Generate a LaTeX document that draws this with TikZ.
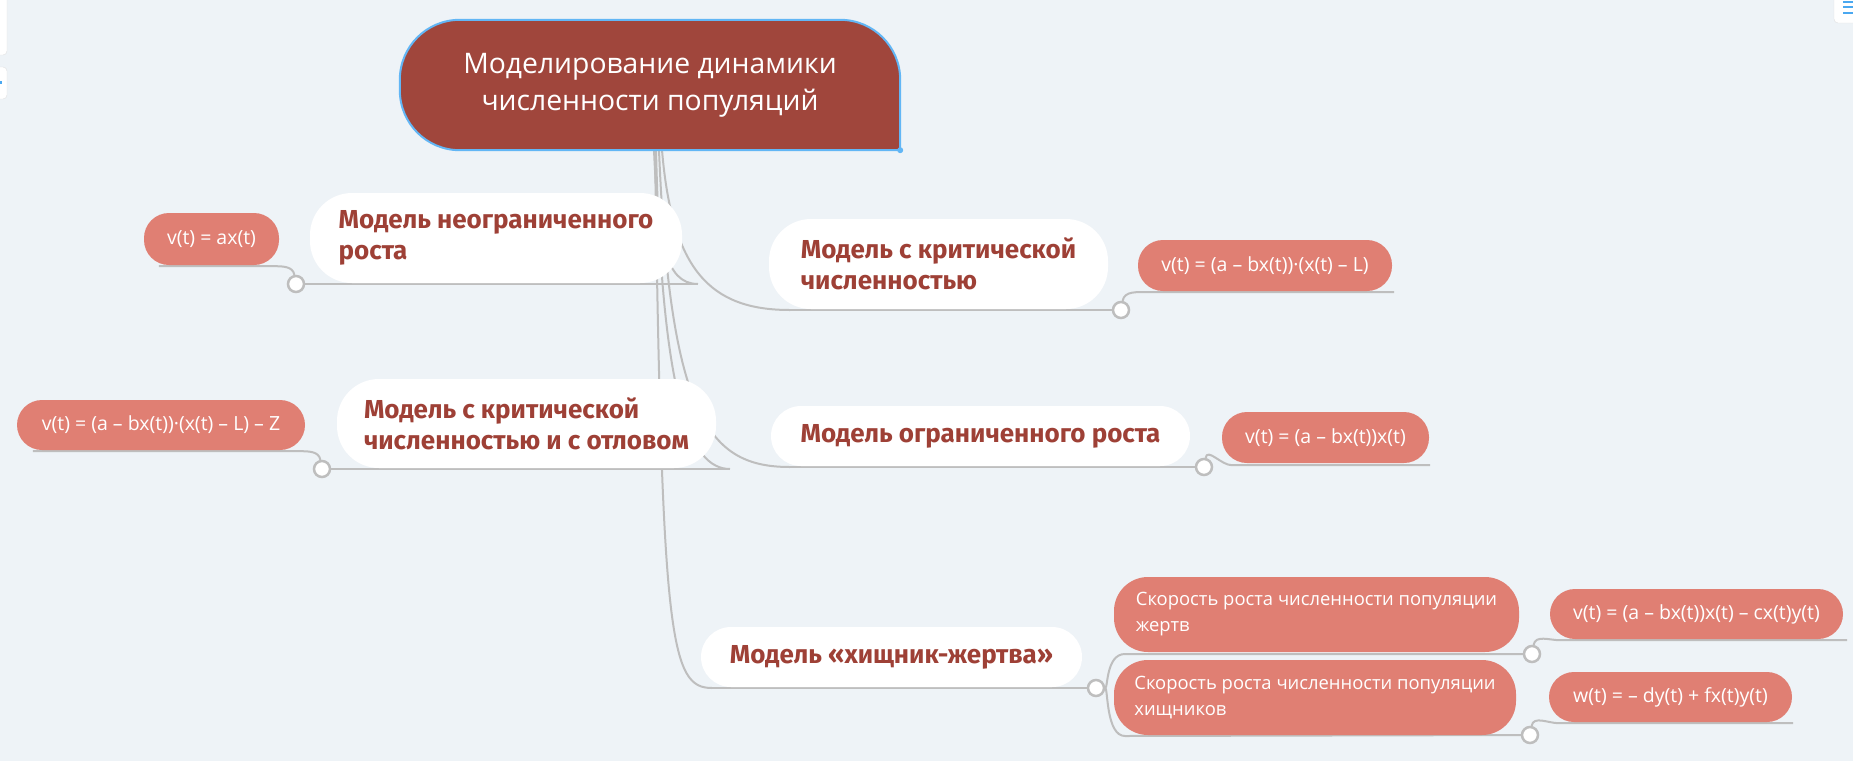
\documentclass[tikz,border=0pt]{standalone}
\usepackage{fontspec}
\setmainfont{Open Sans}
\newfontfamily\topicfont{Fira Sans}
\usepackage{tikz}
\usetikzlibrary{positioning, backgrounds}
\usepackage{xcolor}
\definecolor{canvas}{HTML}{EEF3F7}
\definecolor{rootred}{HTML}{A0463C}
\definecolor{rootblue}{HTML}{62B6F5}
\definecolor{topicred}{HTML}{9E4036}
\definecolor{leafred}{HTML}{E07F73}
\definecolor{linegray}{HTML}{BEBEBE}
\definecolor{uiblue}{HTML}{4AA8F0}
\tikzstyle{rootbox} = [rectangle, minimum width=500pt, minimum height=130pt, inner sep=0pt]
\tikzstyle{roottext} = [align=center, text=white, font=\fontsize{28.3}{37}\selectfont]
\tikzstyle{topic} = [rectangle, rounded corners=30pt, fill=white, align=left, inner sep=0pt, text=topicred, font=\topicfont\bfseries\fontsize{26}{31}\selectfont]
\tikzstyle{subtopic} = [rectangle, rounded corners=34pt, fill=leafred, align=left, inner sep=0pt, text=white, font=\fontsize{18.4}{26}\selectfont]
\tikzstyle{formula} = [rectangle, rounded corners=25pt, fill=leafred, inner sep=0pt, text=white, font=\fontsize{19.5}{22}\selectfont]
\tikzstyle{knob} = [circle, draw=linegray, line width=2.5pt, fill=white, minimum size=16pt, inner sep=0pt]
\tikzstyle{link} = [draw=linegray, line width=2pt]

\begin{document}
\begin{tikzpicture}[x=1pt, y=-1pt]
\useasboundingbox (0,0) rectangle (1853,761);

% central topic
\node[rootbox] (root) at (650,85) {};
\filldraw[fill=rootred, draw=rootblue, line width=2pt, rounded corners=60pt] (root.east) -- (root.north east) -- (root.north west) -- (root.south west) -- (root.south) [sharp corners] -- (root.south east) -- cycle;
\fill[rootblue] (root.south east) circle (3pt);
\node[roottext] (title) at (root.center) {Моделирование динамики\\численности популяций};

% main branches
\node[topic, rounded corners=42pt, minimum width=372pt, minimum height=90pt] (unbounded) at (496,238) {Модель неограниченного\\роста};
\node[topic, rounded corners=42pt, minimum width=379pt, minimum height=89pt] (harvest) at (526.5,423.5) {Модель с критической\\численностью и с отловом};
\node[topic, rounded corners=42pt, minimum width=339pt, minimum height=90pt] (critical) at (938.5,264) {Модель с критической\\численностью};
\node[topic, minimum width=419pt, minimum height=60pt] (bounded) at (980.5,436) {Модель ограниченного роста};
\node[topic, minimum width=381pt, minimum height=60pt] (predator) at (891.5,657) {Модель «хищник-жертва»};

\node[subtopic, minimum width=405pt, minimum height=75pt] (prey) at (1316.5,614.5) {Скорость роста численности популяции\\жертв};
\node[subtopic, minimum width=402pt, minimum height=75pt] (hunter) at (1315,697.5) {Скорость роста численности популяции\\хищников};

% formulas
\node[formula, minimum width=135pt, minimum height=52pt] (fUnbounded) at (211.5,239) {v(t) = ax(t)};
\node[formula, minimum width=288pt, minimum height=50pt] (fHarvest) at (161,425) {v(t) = (a – bx(t))·(x(t) – L) – Z};
\node[formula, minimum width=254pt, minimum height=51pt] (fCritical) at (1265,265.5) {v(t) = (a – bx(t))·(x(t) – L)};
\node[formula, minimum width=207pt, minimum height=51pt] (fBounded) at (1325.5,437.5) {v(t) = (a – bx(t))x(t)};
\node[formula, minimum width=293pt, minimum height=50pt] (fPrey) at (1696.5,614) {v(t) = (a – bx(t))x(t) – cx(t)y(t)};
\node[formula, minimum width=243pt, minimum height=50pt] (fHunter) at (1670.5,697) {w(t) = – dy(t) + fx(t)y(t)};

% knobs
\node[knob] (kUnbounded) at (296,284) {};
\node[knob] (kHarvest) at (322,469) {};
\node[knob] (kCritical) at (1121,310) {};
\node[knob] (kBounded) at (1204,467) {};
\node[knob] (kPredator) at (1096,688) {};
\node[knob] (kPrey) at (1532,654) {};
\node[knob] (kHunter) at (1530,735) {};

\coordinate (jUnbounded) at (698,284);
\coordinate (jHarvest) at (730,469);
\coordinate (jCritical) at (790,310);
\coordinate (jBounded) at (790,467);
\coordinate (jPredator) at (712,688);

\begin{scope}[on background layer]
\fill[canvas] (0,0) rectangle (1853,761);
% side panels of the editor
\filldraw[fill=white, draw=black!12, rounded corners=4pt] (-10,-10) rectangle (7,55);
\filldraw[fill=white, draw=black!12, rounded corners=4pt] (-10,67) rectangle (7,99);
\fill[uiblue] (0,81) rectangle (2,84);
\filldraw[fill=white, draw=black!12, rounded corners=4pt] (1834,-10) rectangle (1863,23);
\foreach \y in {2,7,13} \draw[uiblue, line width=1.5pt] (1843,\y) -- (1853,\y);

% trunk
\draw[link] (654,150) .. controls (658,240) and (665,284) .. (jUnbounded);
\draw[link] (656,150) .. controls (662,400) and (690,469) .. (jHarvest);
\draw[link] (662,150) .. controls (672,270) and (710,310) .. (jCritical);
\draw[link] (659,150) .. controls (670,420) and (710,467) .. (jBounded);
\draw[link] (655,150) .. controls (662,640) and (670,688) .. (jPredator);

% underlines of main branches
\draw[link] (kUnbounded) -- (jUnbounded);
\draw[link] (kHarvest) -- (jHarvest);
\draw[link] (jCritical) -- (kCritical);
\draw[link] (jBounded) -- (kBounded);
\draw[link] (jPredator) -- (kPredator);

% predator-prey fork
\draw[link] (kPredator) .. controls (1108,688) and (1106,654) .. (1125,654) -- (kPrey);
\draw[link] (kPredator) .. controls (1108,688) and (1106,736) .. (1125,736) -- (kHunter);

% underlines of formulas
\draw[link] ([xshift=15pt,yshift=-1pt]fUnbounded.south west) -- ([xshift=-6pt,yshift=-1pt]fUnbounded.south east) to[out=0,in=100] (kUnbounded);
\draw[link] ([xshift=16pt,yshift=-1pt]fHarvest.south west) -- ([xshift=-6pt,yshift=-1pt]fHarvest.south east) to[out=0,in=100] (kHarvest);
\draw[link] (kCritical) to[out=80,in=180] ([xshift=10pt,yshift=-1pt]fCritical.south west) -- ([xshift=2pt,yshift=-1pt]fCritical.south east);
\draw[link] (kBounded) to[out=80,in=180] ([xshift=10pt,yshift=-2pt]fBounded.south west) -- ([xshift=1pt,yshift=-2pt]fBounded.south east);
\draw[link] (kPrey) to[out=80,in=180] ([xshift=10pt,yshift=-1pt]fPrey.south west) -- ([xshift=4pt,yshift=-1pt]fPrey.south east);
\draw[link] (kHunter) to[out=80,in=180] ([xshift=10pt,yshift=-1pt]fHunter.south west) -- ([xshift=1pt,yshift=-1pt]fHunter.south east);
\end{scope}
\end{tikzpicture}
\end{document}
